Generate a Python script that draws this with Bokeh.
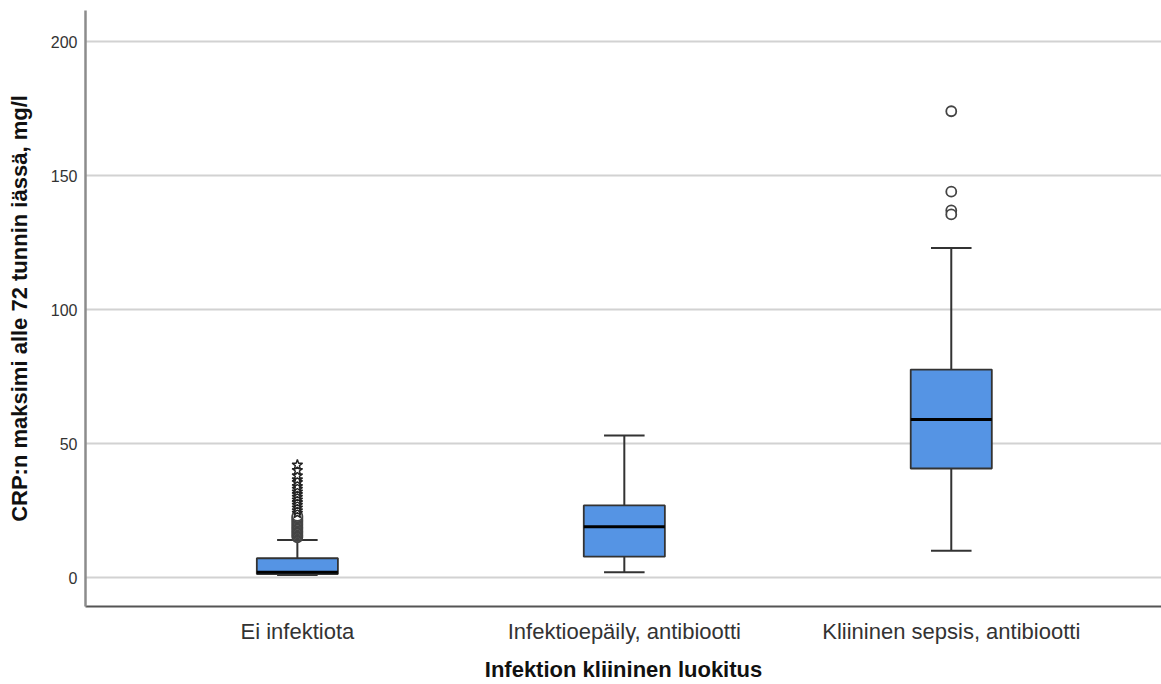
from bokeh.plotting import figure
from bokeh.models import FixedTicker, Range1d
from bokeh.embed import file_html
from bokeh.resources import INLINE

# Infection classification groups
categories = ["Ei infektiota", "Infektioepäily, antibiootti", "Kliininen sepsis, antibiootti"]
positions = [1, 2, 3]

# Box statistics (mg/l)
whisker_low = [1.0, 2.0, 10.0]
q1 = [1.3, 7.8, 40.7]
median = [2.0, 19.0, 59.0]
q3 = [7.2, 26.9, 77.6]
whisker_high = [14.0, 53.0, 123.0]

# Outliers: circles (mild), stars (extreme)
mild_group = [1] * 17 + [3, 3, 3, 3]
mild_values = [15.0, 15.5, 16.0, 16.5, 17.0, 17.5, 18.0, 18.5, 19.0, 19.5,
               20.0, 20.5, 21.0, 21.5, 22.0, 22.5, 23.0,
               174.0, 144.0, 137.0, 135.5]
extreme_group = [1] * 16
extreme_values = [24.0, 25.0, 26.0, 27.0, 28.0, 29.0, 30.0, 31.0,
                  32.0, 33.0, 34.0, 35.5, 36.5, 38.0, 40.0, 42.0]

y_ticks = [0, 50, 100, 150, 200]

BOX_W = 0.248
CAP_W = 0.124
FILL = "#5594e4"
EDGE = "#333333"

p = figure(width=1161, height=684, output_backend="svg", toolbar_location=None,
           x_range=Range1d(0.352, 3.643), y_range=Range1d(-10.8, 211.6),
           min_border_left=85, min_border_right=0, min_border_top=10,
           min_border_bottom=78)
p.outline_line_color = None
p.background_fill_color = "white"

# whiskers
p.segment(x0=positions, x1=positions, y0=whisker_low, y1=q1, line_color=EDGE, line_width=2)
p.segment(x0=positions, x1=positions, y0=q3, y1=whisker_high, line_color=EDGE, line_width=2)
caps_x0 = [x - CAP_W / 2 for x in positions]
caps_x1 = [x + CAP_W / 2 for x in positions]
p.segment(x0=caps_x0, x1=caps_x1, y0=whisker_high, y1=whisker_high, line_color=EDGE, line_width=2)
p.segment(x0=caps_x0, x1=caps_x1, y0=whisker_low, y1=whisker_low, line_color=EDGE, line_width=2)

# boxes
p.vbar(x=positions, width=BOX_W, bottom=q1, top=q3, fill_color=FILL,
       line_color=EDGE, line_width=1.8)
box_x0 = [x - BOX_W / 2 for x in positions]
box_x1 = [x + BOX_W / 2 for x in positions]
p.segment(x0=box_x0, x1=box_x1, y0=median, y1=median, line_color="black", line_width=3)

# outliers
p.scatter(x=mild_group, y=mild_values, marker="circle", size=10,
          fill_color="white", line_color="#444444", line_width=1.8)
p.scatter(x=extreme_group, y=extreme_values, marker="star", size=11,
          fill_color="white", line_color="#222222", line_width=1.4)

# axes
p.xaxis.ticker = FixedTicker(ticks=positions)
p.xaxis.major_label_overrides = {pos: lab for pos, lab in zip(positions, categories)}
p.yaxis.ticker = FixedTicker(ticks=y_ticks)
p.yaxis.minor_tick_line_color = None
p.xaxis.minor_tick_line_color = None
p.xaxis.major_tick_line_color = None
p.yaxis.major_tick_line_color = None

p.xaxis.axis_line_color = "#555555"
p.xaxis.axis_line_width = 2
p.yaxis.axis_line_color = "#8c8c8c"
p.yaxis.axis_line_width = 2.5

p.xaxis.major_label_text_font = "Liberation Sans"
p.xaxis.major_label_text_font_size = "22px"
p.xaxis.major_label_text_color = "#333333"
p.xaxis.major_label_standoff = 6
p.yaxis.major_label_text_font = "Liberation Sans"
p.yaxis.major_label_text_font_size = "16px"
p.yaxis.major_label_text_color = "#333333"
p.yaxis.major_label_standoff = 2

p.xaxis.axis_label = "Infektion kliininen luokitus"
p.yaxis.axis_label = "CRP:n maksimi alle 72 tunnin iässä, mg/l"
for ax in (p.xaxis[0], p.yaxis[0]):
    ax.axis_label_text_font = "Liberation Sans"
    ax.axis_label_text_font_style = "bold"
    ax.axis_label_text_font_size = "22px"
    ax.axis_label_text_color = "#111111"
p.xaxis.axis_label_standoff = 10
p.yaxis.axis_label_standoff = 16

p.xgrid.grid_line_color = None
p.ygrid.grid_line_color = "#d2d2d2"
p.ygrid.grid_line_width = 2

open("out.html", "w").write(file_html(p, INLINE))
